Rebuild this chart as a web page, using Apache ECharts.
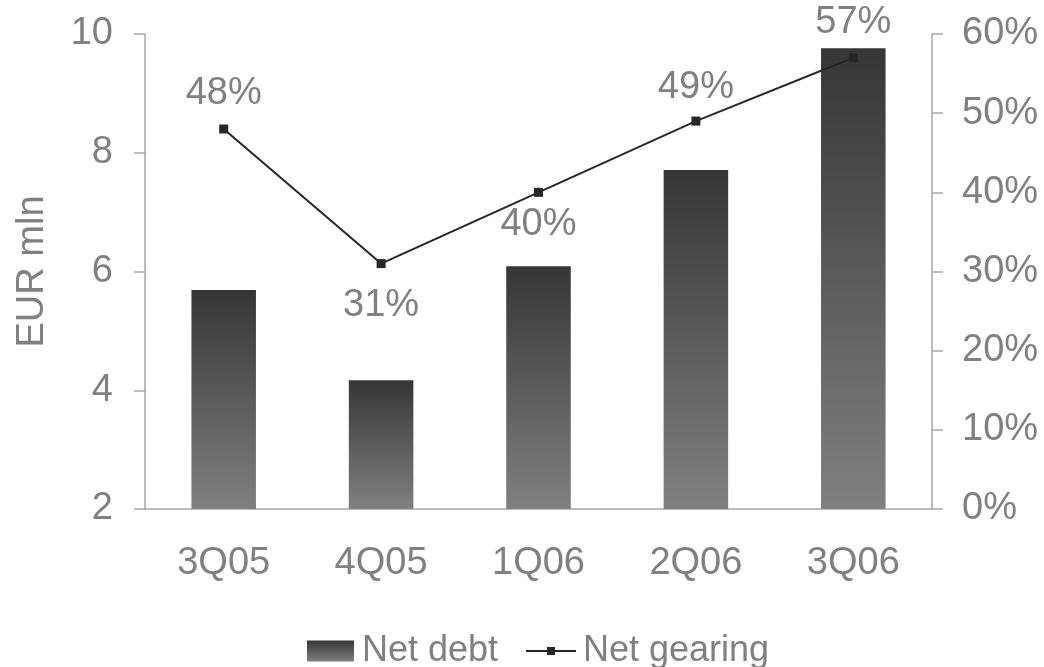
<!DOCTYPE html>
<html>
<head>
<meta charset="utf-8">
<script src="https://cdn.jsdelivr.net/npm/echarts@6/dist/echarts.min.js"></script>
<style>
  html, body { margin: 0; padding: 0; background: #fff; }
  #chart { width: 1044px; height: 667px; }
</style>
</head>
<body>
<div id="chart"></div>
<script>
// Quarterly net debt (EUR mln) and net gearing (%)
const quarters = ['3Q05', '4Q05', '1Q06', '2Q06', '3Q06'];
const netDebt = [5.69, 4.17, 6.09, 7.71, 9.76];
const netGearing = [48, 31, 40, 49, 57];
const gearingLabelPos = ['top', 'bottom', 'bottom', 'top', 'top'];
const gearingLabelGap = [12, 18, 9, 10, 12];

const textGrey = '#808080';
const axisGrey = '#a6a6a6';
const font = 'Liberation Sans, Arial, sans-serif';

const chart = echarts.init(document.getElementById('chart'), null, { renderer: 'canvas' });

const barGradient = new echarts.graphic.LinearGradient(0, 0, 0, 1, [
  { offset: 0, color: '#363636' },
  { offset: 1, color: '#808080' }
]);

chart.setOption({
  animation: false,
  backgroundColor: '#fff',
  textStyle: { fontFamily: font },
  grid: { left: 145, right: 112, top: 34, bottom: 158 },
  legend: [
    {
      data: [{ name: 'Net debt', icon: 'rect' }],
      left: 302, top: 628,
      itemWidth: 47, itemHeight: 21,
      textStyle: { color: textGrey, fontSize: 36, fontFamily: font, padding: [0, 0, 0, 3] }
    },
    {
      data: ['Net gearing'],
      left: 520, top: 628,
      itemWidth: 50, itemHeight: 10,
      textStyle: { color: textGrey, fontSize: 36, fontFamily: font, padding: [0, 0, 0, 2] }
    }
  ],
  xAxis: {
    type: 'category',
    data: quarters,
    axisLine: { lineStyle: { color: axisGrey, width: 1.5 } },
    axisTick: { show: false },
    axisLabel: { color: textGrey, fontSize: 38, margin: 36, fontFamily: font }
  },
  yAxis: [
    {
      type: 'value',
      min: 2, max: 10, interval: 2,
      name: 'EUR mln',
      nameLocation: 'middle',
      nameGap: 93,
      nameTextStyle: { color: textGrey, fontSize: 38, fontFamily: font },
      axisLine: { show: true, lineStyle: { color: axisGrey, width: 1.5 } },
      axisTick: { show: true, length: 11, lineStyle: { color: axisGrey, width: 1.5 } },
      splitLine: { show: false },
      axisLabel: { color: textGrey, fontSize: 38, margin: 32, fontFamily: font }
    },
    {
      type: 'value',
      min: 0, max: 60, interval: 10,
      position: 'right',
      axisLine: { show: true, lineStyle: { color: axisGrey, width: 1.5 } },
      axisTick: { show: true, length: 11, lineStyle: { color: axisGrey, width: 1.5 } },
      splitLine: { show: false },
      axisLabel: { color: textGrey, fontSize: 38, margin: 30, formatter: '{value}%', fontFamily: font }
    }
  ],
  series: [
    {
      name: 'Net debt',
      type: 'bar',
      yAxisIndex: 0,
      barWidth: '41%',
      data: netDebt,
      itemStyle: { color: barGradient }
    },
    {
      name: 'Net gearing',
      type: 'line',
      yAxisIndex: 1,
      symbol: 'rect',
      symbolSize: 9,
      lineStyle: { color: '#262626', width: 2 },
      itemStyle: { color: '#262626' },
      data: netGearing.map((v, i) => ({
        value: v,
        label: {
          show: true,
          position: gearingLabelPos[i],
          distance: gearingLabelGap[i],
          formatter: v + '%',
          color: textGrey,
          fontSize: 38,
          fontFamily: font
        }
      }))
    }
  ]
});
</script>
</body>
</html>
